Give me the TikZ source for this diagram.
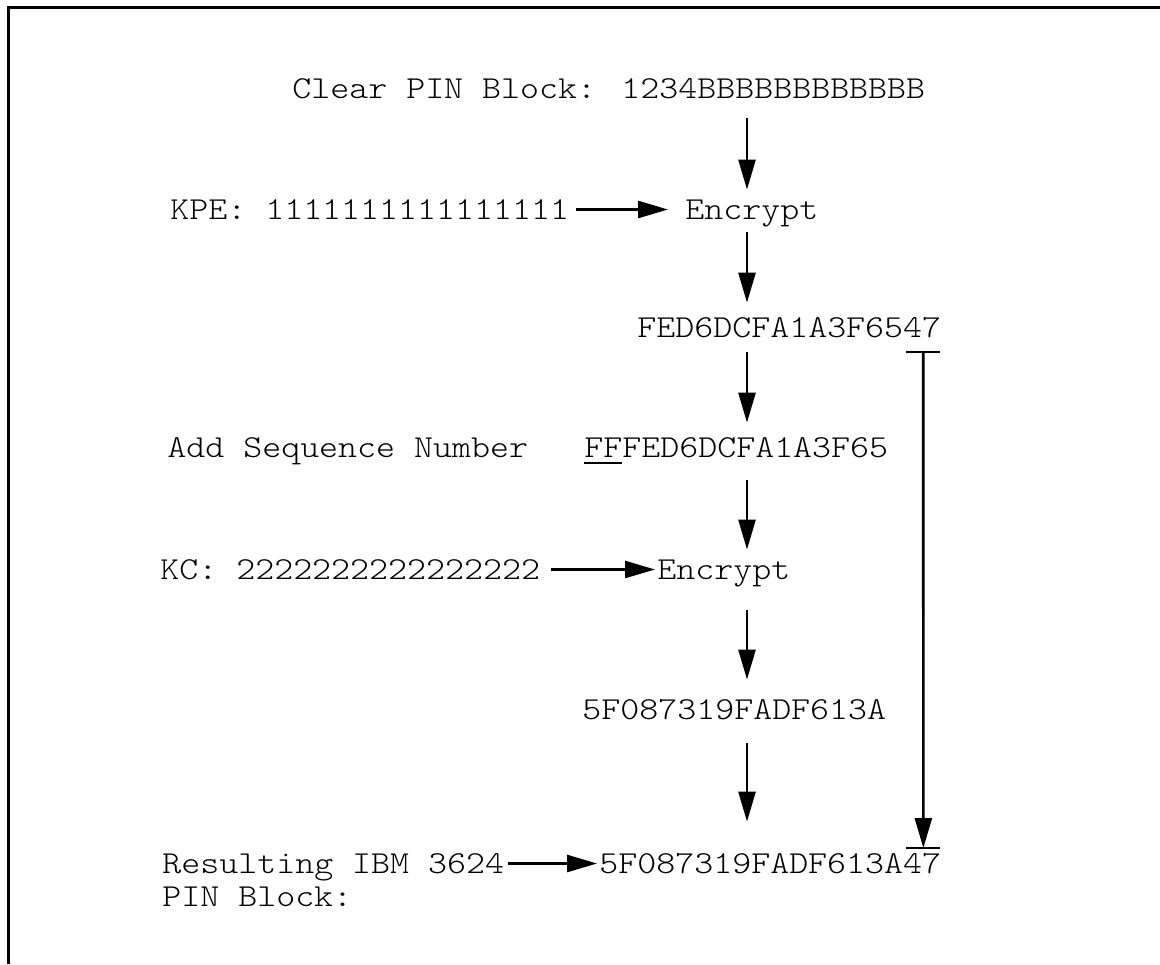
\documentclass[tikz,border=0pt]{standalone}
\usepackage{fontspec}
\newfontfamily\cour{lmmonolt10-regular.otf}[FakeStretch=1.13]
\usetikzlibrary{arrows.meta,calc}
\begin{document}
\begin{tikzpicture}[x=0.5pt,y=-0.5pt,
  txt/.style={font=\cour\fontsize{16pt}{17pt}\selectfont, inner sep=0pt, anchor=base west, text height=9.5pt, text depth=0pt},
  txtm/.style={font=\cour\fontsize{16pt}{16.5pt}\selectfont, inner sep=0pt, anchor=base west},
  arr/.style={line width=1.3pt, -{Triangle[length=15pt,width=8.5pt]}},
  bar/.style={line width=1.3pt},
  frame/.style={line width=1.5pt}]
\useasboundingbox (0,0) rectangle (1160,964);
\draw[frame] (8,964) -- (8,7) -- (1160,7);
\coordinate (col) at (747,0);
% texts
\node[txt] (clear) at (292,98) {Clear PIN Block: 1234BBBBBBBBBBBB};
\node[txt] (kpe) at (170,219) {KPE: 1111111111111111};
\node[txt] (enc1) at (685,219) {Encrypt};
\node[txt] (fed) at (637,337) {FED6DCFA1A3F6547};
\node[txt] (addseq) at (167,457) {Add Sequence Number};
\node[txt] (ff) at (584,457) {FFFED6DCFA1A3F65};
\node[txt] (kc) at (160,579) {KC: 2222222222222222};
\node[txt] (enc2) at (657,579) {Encrypt};
\node[txt] (c5f) at (582,719) {5F087319FADF613A};
\node[txtm] (res) at (162,873) {\begin{tabular}[t]{@{}l@{}}Resulting IBM 3624\\PIN Block:\end{tabular}};
\node[txt] (final) at (599,873) {5F087319FADF613A47};
% vertical arrows
\draw[arr] ([yshift=-10pt]clear.base -| col) -- ([yshift=5pt]enc1.north -| col);
\draw[arr] ([yshift=-6.5pt]enc1.base -| col) -- ([yshift=7.5pt]fed.north -| col);
\draw[arr] ([yshift=-7.5pt]fed.base -| col) -- ([yshift=7.5pt]ff.north -| col);
\draw[arr] ([yshift=-11.5pt]ff.base -| col) -- ([yshift=5pt]enc2.north -| col);
\draw[arr] ([yshift=-15.5pt]enc2.base -| col) -- ([yshift=10pt]c5f.north -| col);
\draw[arr] ([yshift=-12pt]c5f.base -| col) -- ([yshift=16pt]final.north -| col);
% horizontal arrows
\draw[arr] ([xshift=3.5pt]kpe.east) -- ([xshift=-8.5pt]enc1.west);
\draw[arr] ([xshift=5.5pt]kc.east) -- ([xshift=-1pt]enc2.west);
\draw[arr] ([xshift=1.5pt]res.east |- final.west) -- ([xshift=-1pt]final.west);
% underline FF
\coordinate (ffa) at ($(ff.base west)+(0,6)$);
\coordinate (ffb) at ($(ff.base west)+(2*19.08,6)$);
\draw[bar] (ffa) -- (ffb);
% bar under 47 of fed, bar over 47 of final, bracket line
\coordinate (ua) at ($(fed.base west)+(14*19.08+2,15)$);
\coordinate (ub) at ($(fed.base west)+(16*19.08-2,15)$);
\coordinate (um) at ($(fed.base west)+(15*19.08,15)$);
\coordinate (oa) at ($(final.base west)+(16*19.08+2,-25)$);
\coordinate (ob) at ($(final.base west)+(18*19.08-2,-25)$);
\coordinate (om) at ($(final.base west)+(17*19.08,-25)$);
\draw[bar] (ua) -- (ub);
\draw[bar] (oa) -- (ob);
\draw[arr] (um) -- (om);
\end{tikzpicture}
\end{document}
